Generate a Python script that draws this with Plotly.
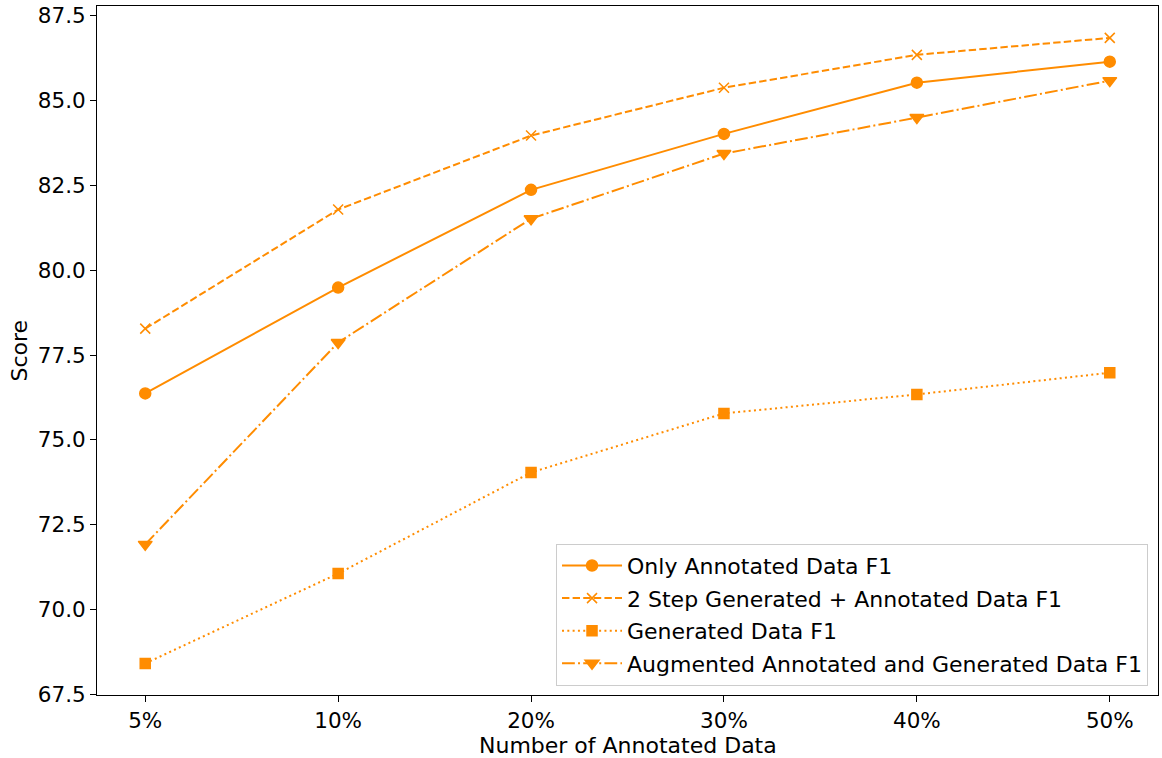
import plotly.graph_objects as go

categories = ["5%", "10%", "20%", "30%", "40%", "50%"]
only_annotated = [76.37, 79.49, 82.37, 84.02, 85.53, 86.15]
two_step = [78.28, 81.79, 83.97, 85.38, 86.35, 86.85]
generated = [68.41, 71.06, 74.04, 75.78, 76.34, 76.98]
augmented = [71.92, 77.87, 81.52, 83.44, 84.50, 85.59]
y_ticks = [67.5, 70.0, 72.5, 75.0, 77.5, 80.0, 82.5, 85.0, 87.5]

color = "#ff8c00"
xs = list(range(len(categories)))

series = [
    ("Only Annotated Data F1", only_annotated, "solid", "circle", 11),
    ("2 Step Generated + Annotated Data F1", two_step, "7.4px,3.2px", "x-thin-open", 10),
    ("Generated Data F1", generated, "2px,3.3px", "square", 10),
    ("Augmented Annotated and Generated Data F1", augmented, "12.8px,3.2px,2px,3.2px", "triangle-down", 12),
]

fig = go.Figure()
for i, (name, vals, dash, sym, size) in enumerate(series):
    fig.add_trace(go.Scatter(
        x=xs, y=vals, name=name, mode="lines+markers", legendgroup=f"g{i}",
        line=dict(color=color, width=2, dash=dash),
        marker=dict(symbol=sym, size=size, color=color,
                    line=dict(color=color, width=1.5)),
    ))

fig.update_layout(
    width=1162, height=758,
    margin=dict(l=97, r=4, t=6, b=63, autoexpand=False),
    paper_bgcolor="white", plot_bgcolor="white",
    font=dict(family="DejaVu Sans", size=21.5, color="black"),
    showlegend=True,
    legend=dict(x=0.9906, y=0.0135, xanchor="right", yanchor="bottom",
                bordercolor="#cccccc", borderwidth=1, bgcolor="rgba(255,255,255,0.8)",
                font=dict(size=22), tracegroupgap=1, itemwidth=60),
    annotations=[
        dict(text="Number of Annotated Data", xref="paper", yref="paper",
             x=0.5, y=-(745 - 695) / 689, xanchor="center", yanchor="middle",
             showarrow=False, font=dict(size=22)),
        dict(text="Score", xref="paper", yref="paper",
             x=-(97 - 19) / 1061, y=0.5, xanchor="center", yanchor="middle",
             textangle=-90, showarrow=False, font=dict(size=22)),
    ],
)
fig.update_xaxes(
    range=[-0.25, 5.25], tickmode="array", tickvals=xs, ticktext=categories,
    showgrid=False, zeroline=False, showline=True, linecolor="black", linewidth=1,
    mirror=True, ticks="outside", ticklen=6, tickcolor="black", automargin=False,
)
fig.update_yaxes(
    range=[67.48, 87.79], tickmode="array", tickvals=y_ticks,
    ticktext=[f"{v:.1f}" for v in y_ticks],
    showgrid=False, zeroline=False, showline=True, linecolor="black", linewidth=1,
    mirror=True, ticks="outside", ticklen=6, tickcolor="black", automargin=False,
)

fig.write_html("out.html", config={"displayModeBar": False},
               post_script="document.body.style.margin='0';")
